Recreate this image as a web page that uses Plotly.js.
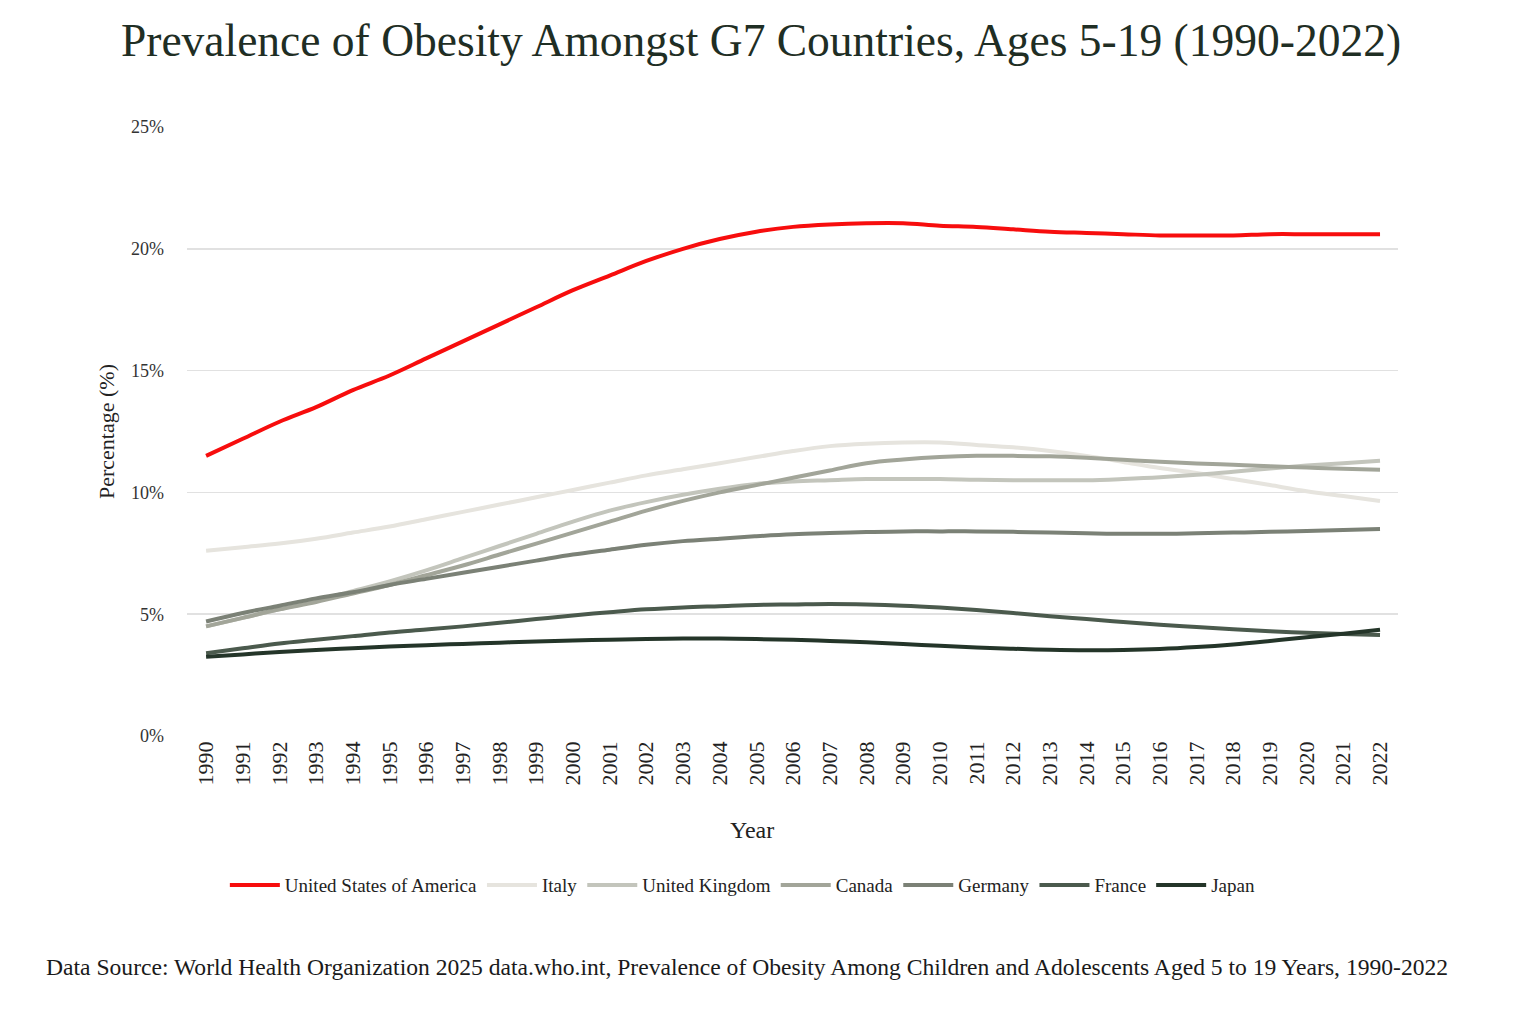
<!DOCTYPE html>
<html>
<head>
<meta charset="utf-8">
<script src="https://cdn.plot.ly/plotly-3.0.1.min.js"></script>
<style>
html,body{margin:0;padding:0;background:#fff;}
#chart{width:1522px;height:1011px;}
</style>
</head>
<body>
<div id="chart"></div>
<script>
const years = [1990,1991,1992,1993,1994,1995,1996,1997,1998,1999,2000,2001,2002,2003,2004,2005,2006,2007,2008,2009,2010,2011,2012,2013,2014,2015,2016,2017,2018,2019,2020,2021,2022];

const usa = [11.5,12.2,12.9,13.5,14.2,14.8,15.5,16.2,16.9,17.6,18.3,18.9,19.5,20.0,20.4,20.7,20.9,21.0,21.05,21.05,20.95,20.9,20.8,20.7,20.65,20.6,20.55,20.55,20.55,20.6,20.6,20.6,20.6];
const italy = [7.6,7.75,7.9,8.1,8.35,8.6,8.9,9.2,9.5,9.8,10.1,10.4,10.7,10.95,11.2,11.45,11.7,11.9,12.0,12.05,12.05,11.95,11.85,11.7,11.5,11.25,11.0,10.8,10.55,10.3,10.05,9.85,9.65];
const uk = [4.5,4.85,5.2,5.55,5.95,6.35,6.8,7.3,7.8,8.3,8.8,9.25,9.6,9.9,10.15,10.35,10.45,10.5,10.55,10.55,10.55,10.52,10.5,10.5,10.5,10.55,10.62,10.72,10.85,10.98,11.1,11.2,11.3];
const canada = [4.5,4.85,5.2,5.5,5.85,6.2,6.6,7.0,7.45,7.9,8.35,8.8,9.25,9.65,10.0,10.3,10.6,10.9,11.2,11.35,11.45,11.5,11.5,11.48,11.42,11.34,11.26,11.19,11.13,11.07,11.02,10.97,10.93];
const germany = [4.7,5.05,5.35,5.65,5.9,6.2,6.45,6.7,6.95,7.2,7.45,7.65,7.85,8.0,8.1,8.2,8.28,8.33,8.37,8.4,8.4,8.4,8.38,8.35,8.32,8.3,8.3,8.32,8.35,8.38,8.42,8.46,8.5];
const france = [3.4,3.6,3.8,3.95,4.1,4.25,4.37,4.5,4.65,4.8,4.95,5.08,5.2,5.28,5.33,5.38,5.4,5.42,5.4,5.35,5.27,5.17,5.05,4.92,4.8,4.68,4.57,4.47,4.38,4.3,4.24,4.19,4.15];
const japan = [3.25,3.35,3.45,3.53,3.6,3.67,3.73,3.78,3.83,3.88,3.92,3.95,3.98,4.0,4.0,3.98,3.95,3.9,3.85,3.78,3.7,3.63,3.58,3.54,3.52,3.53,3.57,3.65,3.76,3.9,4.05,4.2,4.36];

const seriesNames = ["United States of America","Italy","United Kingdom","Canada","Germany","France","Japan"];
const seriesValues = [usa, italy, uk, canada, germany, france, japan];
const seriesColors = ["#f70d0d","#e6e4de","#c3c5bc","#a2a599","#7b8176","#4b5a4d","#243529"];

const yTickVals = [0,5,10,15,20,25];
const yTickText = ["0%","5%","10%","15%","20%","25%"];

const FONT = "'Liberation Serif', 'DejaVu Serif', serif";

const traces = seriesNames.map((name, i) => ({
  type: 'scatter',
  mode: 'lines',
  name: name,
  x: years,
  y: seriesValues[i],
  line: {color: seriesColors[i], width: 4, shape: 'spline', smoothing: 1}
}));

const layout = {
  width: 1522,
  height: 1011,
  paper_bgcolor: '#ffffff',
  plot_bgcolor: '#ffffff',
  margin: {l: 187, r: 124, t: 127, b: 275},
  title: {
    text: 'Prevalence of Obesity Amongst G7 Countries, Ages 5-19 (1990-2022)',
    font: {family: FONT, size: 45.5, color: '#1f2e24'},
    x: 0.5, xanchor: 'center', y: 0.96, yanchor: 'middle'
  },
  showlegend: true,
  legend: {
    orientation: 'h',
    x: 0.459, xanchor: 'center',
    y: -0.245, yanchor: 'middle',
    font: {family: FONT, size: 19, color: '#222'},
    itemwidth: 50,
    tracegroupgap: 0
  },
  xaxis: {
    type: 'linear',
    range: [1989.48, 2022.49],
    tickmode: 'array',
    tickvals: years,
    ticktext: years.map(String),
    tickangle: -90,
    tickfont: {family: FONT, size: 22, color: '#222'},
    showgrid: false,
    zeroline: false,
    showline: false,
    ticks: ''
  },
  yaxis: {
    range: [0, 25],
    tickmode: 'array',
    tickvals: yTickVals,
    ticktext: yTickText,
    tickfont: {family: FONT, size: 18, color: '#333'},
    showgrid: true,
    gridcolor: '#e1e1e1',
    gridwidth: 1.5,
    zeroline: false,
    showline: false,
    ticks: '',
    ticklabelstandoff: 22,
    title: {text: 'Percentage (%)', font: {family: FONT, size: 22, color: '#222'}, standoff: 10}
  },
  annotations: [{
    text: 'Year',
    xref: 'paper', yref: 'paper',
    x: 0.4666, xanchor: 'center',
    y: -0.154, yanchor: 'middle',
    showarrow: false,
    font: {family: FONT, size: 24, color: '#222'}
  }, {
    text: 'Data Source: World Health Organization 2025 data.who.int, Prevalence of Obesity Among Children and Adolescents Aged 5 to 19 Years, 1990-2022',
    xref: 'paper', yref: 'paper',
    x: 0.4624, xanchor: 'center',
    y: -0.38, yanchor: 'middle',
    showarrow: false,
    font: {family: FONT, size: 23.6, color: '#1a1a1a'}
  }]
};

Plotly.newPlot('chart', traces, layout, {displayModeBar: false, staticPlot: true});
</script>
</body>
</html>
